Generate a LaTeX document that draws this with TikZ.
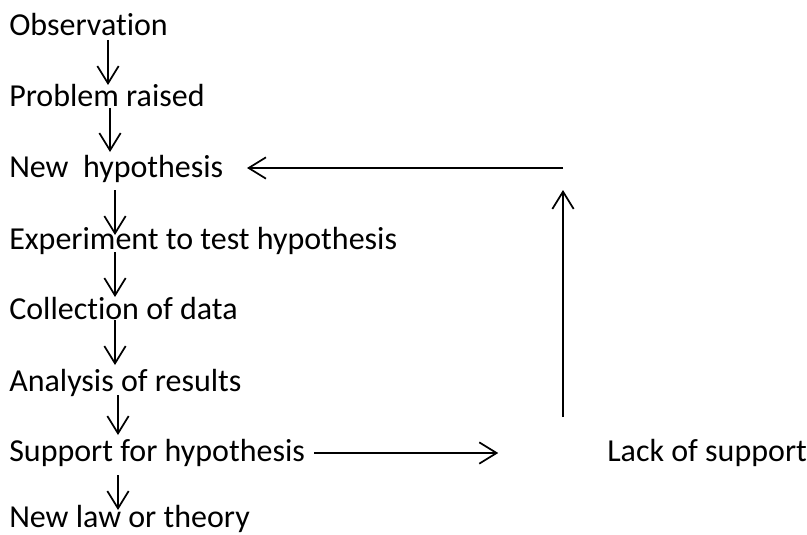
\documentclass[tikz,border=0pt]{standalone}
\usepackage{fontspec}
\setmainfont[Ligatures=NoCommon]{Carlito}
\usetikzlibrary{arrows.meta}
\tikzset{
    stage/.style={anchor=base west,inner sep=0pt,font=\fontsize{24}{28}\selectfont},
    arr/.style={-{Straight Barb[length=13pt,width=16pt]},line width=1.3pt}
}
\begin{document}
\begin{tikzpicture}[x=0.75pt,y=-0.75pt]
\useasboundingbox (0,0) rectangle (807,535);
\node[stage] (obs)  at (9,36) {Observation};
\node[stage] (prob) at (9,107) {Problem raised};
\node[stage] (hyp)  at (9,177) {New\ \ hypothesis};
\node[stage] (exp)  at (9,249) {Experiment to test hypothesis};
\node[stage] (coll) at (9,319) {Collection of data};
\node[stage] (anal) at (9,391) {Analysis of results};
\node[stage] (supp) at (9,461) {Support for hypothesis};
\node[stage] (law)  at (9,527) {New law or theory};
\node[stage] (lack) at (607,461) {Lack of support};
% downward steps
\foreach \a/\x/\s/\l in {obs/108/4/45,prob/110/1/44,hyp/115/13/45,exp/115/3/45,coll/115/1/45,anal/118/4/40,supp/118/14/35}
{
    \draw[arr] (\a.base -| \x,0) ++(0,\s) -- ++(0,\l);
}
% no support: back to a new hypothesis
\coordinate (up0) at (563,417);
\coordinate (up1) at (563,190);
\coordinate (back0) at (563,168);
\coordinate (back1) at (247,168);
\draw[arr] (supp.base east) ++(9,-8) -- ++(184,0);
\draw[arr] (up0) -- (up1);
\draw[arr] (back0) -- (back1);
\end{tikzpicture}
\end{document}
